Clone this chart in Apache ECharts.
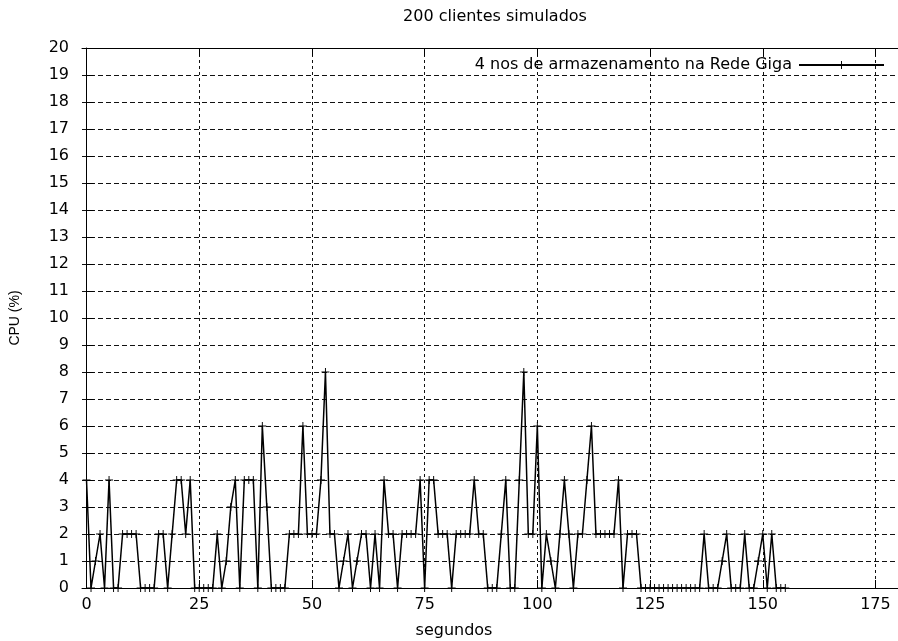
<!DOCTYPE html>
<html>
<head>
<meta charset="utf-8">
<script src="https://cdn.jsdelivr.net/npm/echarts@6/dist/echarts.min.js"></script>
<style>
  html, body { margin: 0; padding: 0; background: #fff; }
  #chart { width: 898px; height: 641px; }
</style>
</head>
<body>
<div id="chart"></div>
<script>
// CPU usage sampled once per second, 200 simulated clients
const cpuPercent = [
  4, 0, 1, 2, 0, 4, 0, 0, 2, 2, 2, 2, 0, 0, 0, 0, 2, 2, 0, 2,
  4, 4, 2, 4, 0, 0, 0, 0, 0, 2, 0, 1, 3, 4, 0, 4, 4, 4, 0, 6,
  3, 0, 0, 0, 0, 2, 2, 2, 6, 2, 2, 2, 4, 8, 2, 2, 0, 1, 2, 0,
  1, 2, 2, 0, 2, 0, 4, 2, 2, 0, 2, 2, 2, 2, 4, 0, 4, 4, 2, 2,
  2, 0, 2, 2, 2, 2, 4, 2, 2, 0, 0, 0, 2, 4, 0, 0, 4, 8, 2, 2,
  6, 0, 2, 1, 0, 2, 4, 2, 0, 2, 2, 4, 6, 2, 2, 2, 2, 2, 4, 0,
  2, 2, 2, 0, 0, 0, 0, 0, 0, 0, 0, 0, 0, 0, 0, 0, 0, 2, 0, 0,
  0, 1, 2, 0, 0, 0, 2, 0, 0, 1, 2, 0, 2, 0, 0, 0
];
const xTickValues = [0, 25, 50, 75, 100, 125, 150, 175];
const yTickValues = [0, 1, 2, 3, 4, 5, 6, 7, 8, 9, 10, 11, 12, 13, 14, 15, 16, 17, 18, 19, 20];
const seriesName = '4 nos de armazenamento na Rede Giga';
const chartTitle = '200 clientes simulados';
const xName = 'segundos';
const yName = 'CPU (%)';

const points = cpuPercent.map((v, i) => [i, v]);

const FONT = 'DejaVu Sans, Verdana, sans-serif';
const FONT_V = 'Liberation Sans, Arial, Helvetica, sans-serif';
const FS = 16;
const plusSymbol = 'path://M0,4.4H10V5.6H0Z M4.4,0H5.6V10H4.4Z';

const chart = echarts.init(document.getElementById('chart'), null, { renderer: 'canvas' });

chart.setOption({
  backgroundColor: '#fff',
  animation: false,
  textStyle: { fontFamily: FONT, color: '#000' },
  title: [
    {
      text: chartTitle,
      left: 490,
      top: 4,
      textAlign: 'center',
      textStyle: { fontFamily: FONT, fontSize: FS, fontWeight: 'normal', color: '#000' }
    },
    {
      text: xName,
      left: 449,
      top: 618,
      textAlign: 'center',
      textStyle: { fontFamily: FONT, fontSize: FS, fontWeight: 'normal', color: '#000' }
    }
  ],
  legend: {
    data: [seriesName],
    right: 8,
    top: 52,
    align: 'right',
    itemWidth: 85,
    itemHeight: 10,
    itemGap: 0,
    textStyle: { fontFamily: FONT, fontSize: FS, color: '#000', padding: [0, 2, 0, 0] }
  },
  grid: { left: 82, top: 48, width: 818, height: 540, containLabel: false },
  xAxis: [
    {
      type: 'value',
      min: -1,
      max: 180,
      position: 'bottom',
      axisLine: { show: true, lineStyle: { color: '#000', width: 1 } },
      axisTick: { show: true, inside: true, length: 8, customValues: xTickValues, lineStyle: { color: '#000' } },
      axisLabel: { customValues: xTickValues, margin: 9, fontFamily: FONT, fontSize: FS, color: '#000' },
      splitLine: { show: true, lineStyle: { color: '#111', width: 1, type: [3, 3] } }
    },
    {
      type: 'value',
      min: -1,
      max: 180,
      position: 'top',
      axisLine: { show: true, lineStyle: { color: '#000', width: 1 } },
      axisTick: { show: true, inside: true, length: 8, customValues: xTickValues, lineStyle: { color: '#000' } },
      axisLabel: { show: false },
      splitLine: { show: false }
    }
  ],
  yAxis: [
    {
      type: 'value',
      min: 0,
      max: 20,
      interval: 1,
      name: yName,
      nameLocation: 'middle',
      nameGap: 60,
      nameTextStyle: { fontFamily: FONT_V, fontSize: 14, color: '#000' },
      axisLine: { show: true, lineStyle: { color: '#000', width: 1 } },
      axisTick: { show: true, inside: true, length: 7, lineStyle: { color: '#000' } },
      axisLabel: { margin: 13, fontFamily: FONT, fontSize: FS, color: '#000',
        formatter: v => (yTickValues.indexOf(v) >= 0 ? String(v) : '') },
      splitLine: { show: true, lineStyle: { color: '#111', width: 1, type: [5, 3] } }
    }
  ],
  series: [
    {
      name: seriesName,
      type: 'line',
      xAxisIndex: 0,
      yAxisIndex: 0,
      data: points,
      symbol: plusSymbol,
      symbolSize: 8,
      showAllSymbol: true,
      lineStyle: { color: '#000', width: 1.5 },
      itemStyle: { color: '#000' },
      emphasis: { disabled: true }
    }
  ]
});
</script>
</body>
</html>
